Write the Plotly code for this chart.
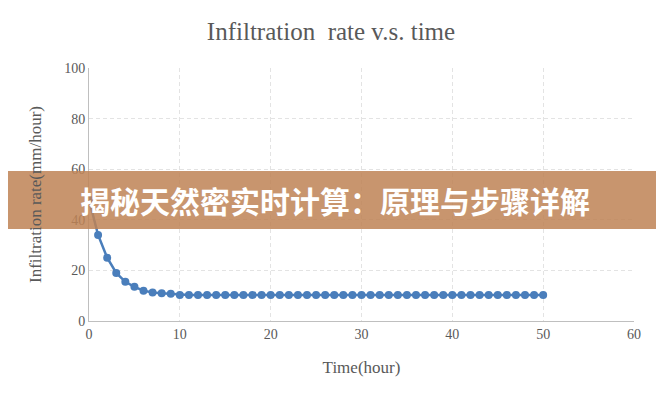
import plotly.graph_objects as go

hours = list(range(0, 51))
rate = [48, 34, 25, 19, 15.5, 13.5, 12, 11.3, 11, 10.8] + [10.3] * 41

fig = go.Figure()
fig.add_trace(go.Scatter(x=hours, y=rate, mode='lines+markers',
                         line=dict(color='#4a7ebb', width=2.5),
                         marker=dict(color='#4a7ebb', size=8)))

# page body has an 8px margin, so positions are offset by 8
fig.update_layout(
    width=664, height=400,
    paper_bgcolor='white', plot_bgcolor='white',
    margin=dict(l=81, r=38, t=60, b=87, autoexpand=False),
    showlegend=False,
    font=dict(family='Liberation Serif', color='#595959', size=14),
    title=dict(text='Infiltration  rate v.s. time', xref='container', x=323 / 664,
               y=1 - 23 / 400, xanchor='center', yanchor='middle',
               font=dict(size=25, color='#595959')),
    xaxis=dict(range=[0, 60], dtick=10, showgrid=True, gridcolor='#e3e3e3', griddash='4px,3px',
               showline=True, linecolor='#bfbfbf', zeroline=False, ticks='', automargin=False,
               title=dict(text='Time(hour)', standoff=20)),
    yaxis=dict(range=[0, 100], dtick=20, showgrid=True, gridcolor='#e3e3e3', griddash='4px,3px',
               showline=True, linecolor='#bfbfbf', zeroline=False, ticks='', automargin=False,
               title=dict(text='Infiltration rate(mm/hour)', standoff=18)),
)

# banner overlay
fig.add_shape(type='rect', xref='paper', yref='paper', x0=-0.2, x1=1.2,
              y0=(400 - 87 - 221) / 253, y1=(400 - 87 - 163) / 253,
              fillcolor='rgba(190,130,85,0.85)', line=dict(width=0), layer='above')
fig.add_annotation(xref='paper', yref='paper', x=(70 - 81) / 545, y=(400 - 87 - 192) / 253,
                   xanchor='left', yanchor='middle', showarrow=False,
                   text='<b>揭秘天然密实时计算：原理与步骤详解</b>',
                   font=dict(family='Noto Sans CJK SC', size=30, color='white'))

fig.write_html('out.html')
